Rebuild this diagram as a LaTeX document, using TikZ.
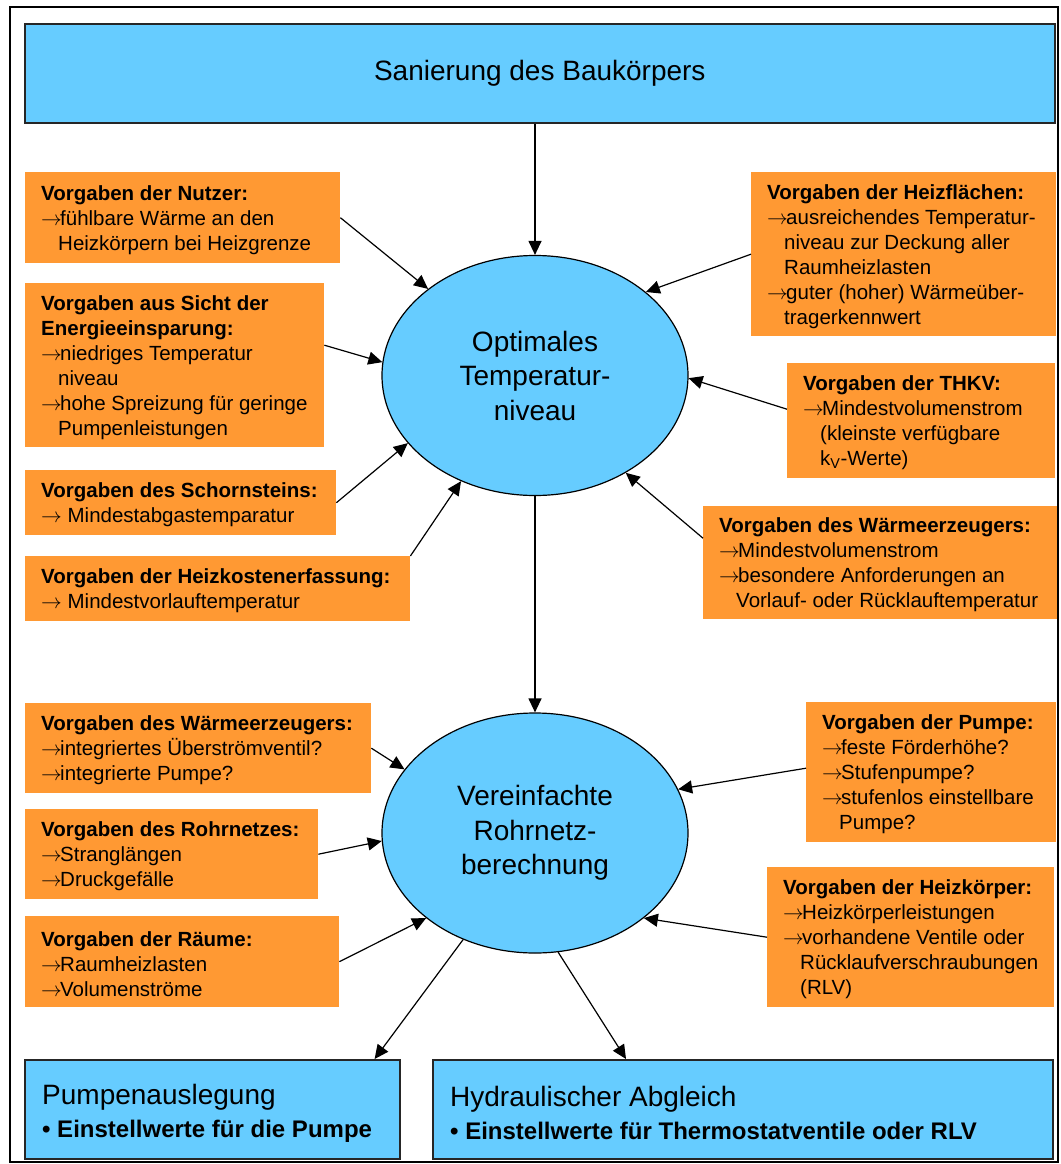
\documentclass[tikz,border=0pt]{standalone}
\usepackage{fontspec}
\setmainfont{Liberation Sans}
\usetikzlibrary{shapes.geometric,arrows.meta,calc}
\definecolor{skyb}{HTML}{66CCFF}
\definecolor{orng}{HTML}{FF9933}
\newcommand\myarr{\makebox[19pt][l]{$\rightarrow$}}
\newcommand\myind{\hspace*{17pt}}
\begin{document}
\begin{tikzpicture}[x=1pt,y=-1pt,
  obox/.style={rectangle, fill=orng, draw=none, inner sep=0pt, anchor=north west},
  otext/.style={align=left, inner sep=0pt, anchor=west, font=\fontsize{20.5}{25}\selectfont},
  bbox/.style={rectangle, draw=black!85, line width=1.6pt, fill=skyb, inner sep=0pt, anchor=north west},
  btext/.style={align=left, inner sep=0pt, anchor=west, font=\fontsize{28}{33}\selectfont},
  ell/.style={ellipse, draw=black, line width=1.2pt, fill=skyb, minimum width=306pt, minimum height=240pt, inner sep=0pt, align=center, font=\fontsize{28}{34.5}\selectfont},
  conn/.style={-{Triangle[length=14pt,width=13pt]}, line width=1.2pt}]
\useasboundingbox (0,0) rectangle (1060,1164);
\draw[line width=1.5pt] (10,7) rectangle (1058,1162);

% top box
\node[bbox, minimum width=1030pt, minimum height=99pt, font=\fontsize{28}{34}\selectfont] (top) at (24,23) {Sanierung des Baukörpers};

% ellipses
\node[ell] (e1) at (535,375.5) {Optimales\\Temperatur-\\niveau};
\node[ell] (e2) at (535,833) {Vereinfachte\\Rohrnetz-\\berechnung};

% orange boxes upper left
\node[obox, minimum width=315pt, minimum height=91pt] (n1) at (25,172) {};
\node[otext] (n1t) at ([xshift=16pt,yshift=-2pt]n1.west) {\textbf{Vorgaben der Nutzer:}\\\myarr fühlbare Wärme an den\\\myind Heizkörpern bei Heizgrenze};

\node[obox, minimum width=299pt, minimum height=164pt] (n2) at (25,283) {};
\node[otext] (n2t) at ([xshift=16pt,yshift=-2pt]n2.west) {\textbf{Vorgaben aus Sicht der}\\\textbf{Energieeinsparung:}\\\myarr niedriges Temperatur\\\myind niveau\\\myarr hohe Spreizung für geringe\\\myind Pumpenleistungen};

\node[obox, minimum width=311pt, minimum height=65pt] (n3) at (25,470) {};
\node[otext] (n3t) at ([xshift=16pt,yshift=-2pt]n3.west) {\textbf{Vorgaben des Schornsteins:}\\$\rightarrow$\ Mindestabgastemparatur};

\node[obox, minimum width=385pt, minimum height=65pt] (n4) at (25,556) {};
\node[otext] (n4t) at ([xshift=16pt,yshift=-2pt]n4.west) {\textbf{Vorgaben der Heizkostenerfassung:}\\$\rightarrow$\ Mindestvorlauftemperatur};

% orange boxes upper right
\node[obox, minimum width=305pt, minimum height=164pt] (n5) at (751,172) {};
\node[otext] (n5t) at ([xshift=16pt,yshift=-2pt]n5.west) {\textbf{Vorgaben der Heizflächen:}\\\myarr ausreichendes Temperatur-\\\myind niveau zur Deckung aller\\\myind Raumheizlasten\\\myarr guter (hoher) Wärmeüber-\\\myind tragerkennwert};

\node[obox, minimum width=268pt, minimum height=115pt] (n6) at (787,363) {};
\node[otext] (n6t) at ([xshift=16pt,yshift=-2pt]n6.west) {\textbf{Vorgaben der THKV:}\\\myarr Mindestvolumenstrom\\\myind (kleinste verfügbare\\\myind k\textsubscript{V}-Werte)};

\node[obox, minimum width=354pt, minimum height=113pt] (n7) at (703,506) {};
\node[otext] (n7t) at ([xshift=16pt,yshift=-2pt]n7.west) {\textbf{Vorgaben des Wärmeerzeugers:}\\\myarr Mindestvolumenstrom\\\myarr besondere Anforderungen an\\\myind Vorlauf- oder Rücklauftemperatur};

% orange boxes lower left
\node[obox, minimum width=346pt, minimum height=90pt] (n8) at (25,703) {};
\node[otext] (n8t) at ([xshift=16pt,yshift=-2pt]n8.west) {\textbf{Vorgaben des Wärmeerzeugers:}\\\myarr integriertes Überströmventil?\\\myarr integrierte Pumpe?};

\node[obox, minimum width=293pt, minimum height=90pt] (n9) at (25,809) {};
\node[otext] (n9t) at ([xshift=16pt,yshift=-2pt]n9.west) {\textbf{Vorgaben des Rohrnetzes:}\\\myarr Stranglängen\\\myarr Druckgefälle};

\node[obox, minimum width=314pt, minimum height=91pt] (n10) at (25,916) {};
\node[otext] (n10t) at ([xshift=16pt,yshift=-2pt]n10.west) {\textbf{Vorgaben der Räume:}\\\myarr Raumheizlasten\\\myarr Volumenströme};

% orange boxes lower right
\node[obox, minimum width=250pt, minimum height=140pt] (n11) at (806,702) {};
\node[otext] (n11t) at ([xshift=16pt,yshift=-2pt]n11.west) {\textbf{Vorgaben der Pumpe:}\\\myarr feste Förderhöhe?\\\myarr Stufenpumpe?\\\myarr stufenlos einstellbare\\\myind Pumpe?};

\node[obox, minimum width=287pt, minimum height=140pt] (n12) at (767,867) {};
\node[otext] (n12t) at ([xshift=16pt,yshift=-2pt]n12.west) {\textbf{Vorgaben der Heizkörper:}\\\myarr Heizkörperleistungen\\\myarr vorhandene Ventile oder\\\myind Rücklaufverschraubungen\\\myind (RLV)};

% bottom boxes
\node[bbox, minimum width=375pt, minimum height=99pt] (pb) at (24,1059) {};
\node[btext] (pbt) at ([xshift=18pt,yshift=-4pt]pb.west) {Pumpenauslegung\\{\fontsize{24}{29}\selectfont\bfseries • Einstellwerte für die Pumpe}};
\node[bbox, minimum width=620pt, minimum height=99pt] (hy) at (432,1059) {};
\node[btext] (hyt) at ([xshift=18pt,yshift=-4pt]hy.west) {Hydraulischer Abgleich\\{\fontsize{24}{29}\selectfont\bfseries • Einstellwerte für Thermostatventile oder RLV}};

% connectors
\draw[conn] (top.south -| e1.north) -- (e1.north);
\draw[conn] (n1.east) -- (e1.141.9);
\draw[conn] ([yshift=20pt]n2.east) -- (e1.175.3);
\draw[conn] (n3.east) -- (e1.208.3);
\draw[conn] (n4.north east) -- (e1.235.4);
\draw[conn] (n5.west) -- (e1.37.5);
\draw[conn] ([yshift=11.5pt]n6.west) -- (e1.359.4);
\draw[conn] ([yshift=24.5pt]n7.west) -- (e1.313.6);
\draw[conn] (e1.south) -- (e2.north);
\draw[conn] (n8.east) -- (e2.154.2);
\draw[conn] (n9.east) -- (e2.183.7);
\draw[conn] (n10.east) -- (e2.218.3);
\draw[conn] ([yshift=4pt]n11.west) -- (e2.17.7);
\draw[conn] (n12.west) -- (e2.322.3);
\draw[conn] (e2.236.1) -- ([xshift=-26pt]pb.north east);
\draw[conn] (e2.281.3) -- ([xshift=194pt]hy.north west);
\end{tikzpicture}
\end{document}
